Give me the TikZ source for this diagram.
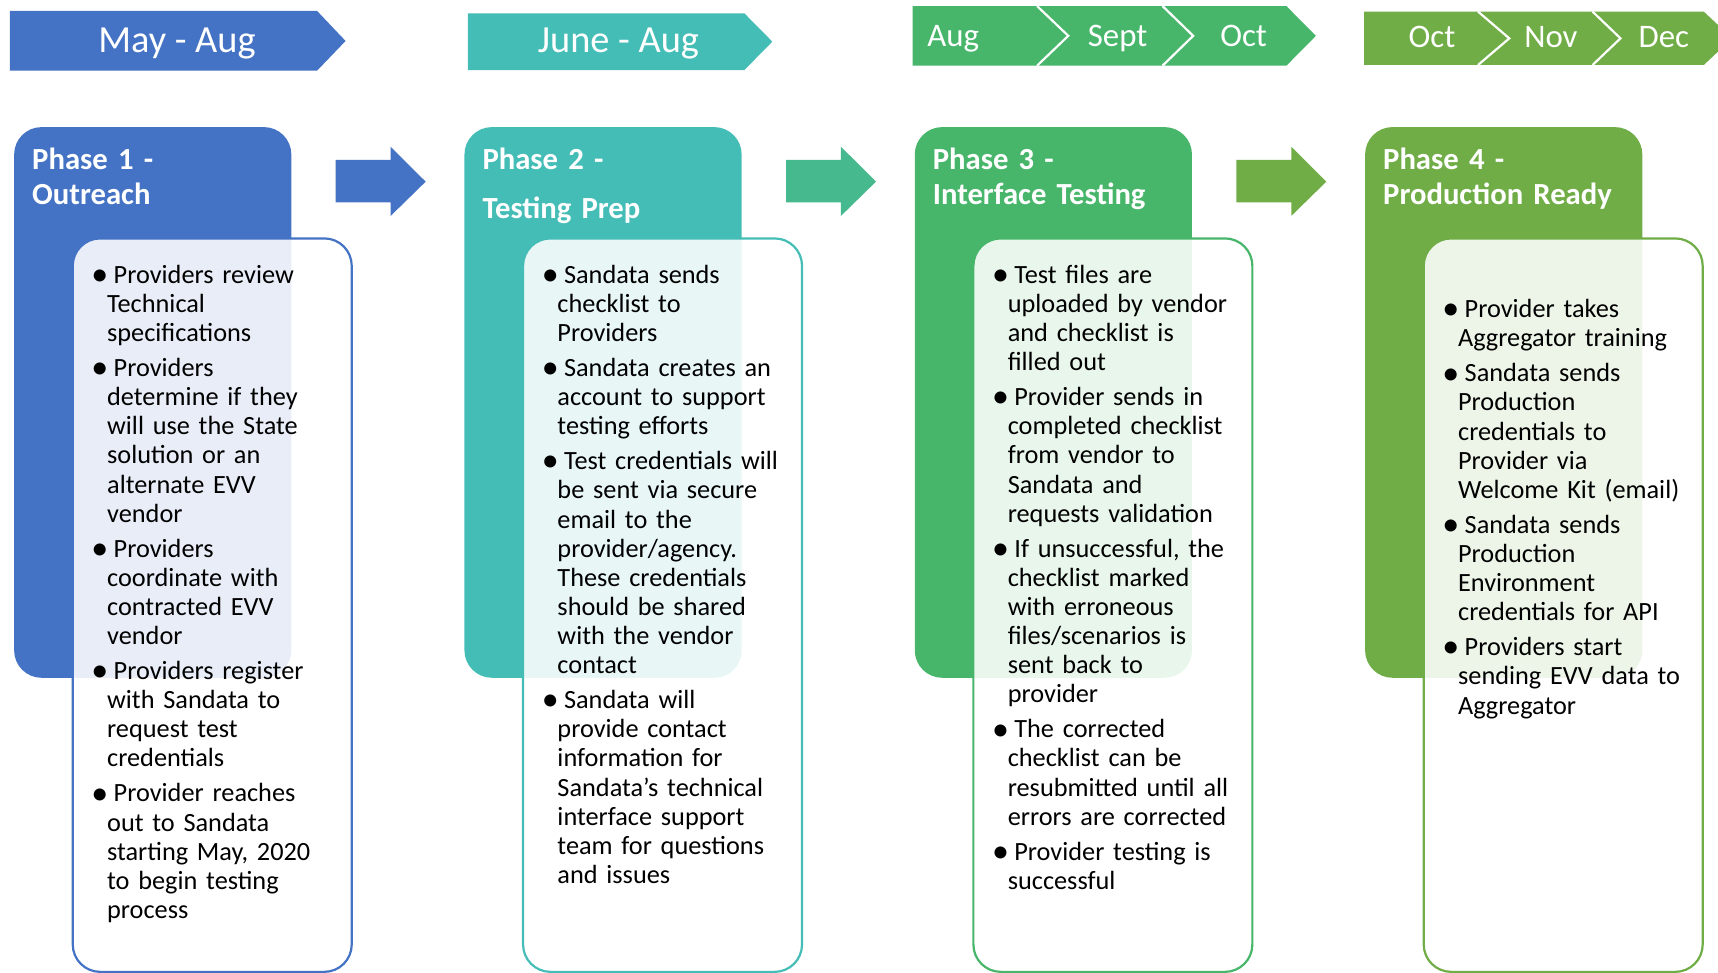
\documentclass[tikz,border=0pt]{standalone}
\usepackage{fontspec}
\setmainfont{Carlito}
\definecolor{pblue}{HTML}{4472C4}
\definecolor{pteal}{HTML}{45BDB7}
\definecolor{pmint}{HTML}{46B98F}
\definecolor{pgreen}{HTML}{47B66A}
\definecolor{polive}{HTML}{70AD47}
\newcommand\first{\noindent\rlap{\hspace{-3.3pt}\makebox[0pt]{\raisebox{-1pt}{\fontsize{15.5}{0}\selectfont\textbullet}}}\hspace{3pt}}
\newcommand\bul{\par\addvspace{2.65pt}\first}

\begin{document}
\begin{tikzpicture}[x=0.5pt,y=-0.5pt,
  phase/.style={fill=#1, rounded corners=12.5pt, anchor=north west, inner sep=0pt,
    minimum width=126.5pt, minimum height=251.3pt},
  card/.style={draw=#1, line width=1pt, fill=white, fill opacity=0.88, rounded corners=12.5pt,
    anchor=north west, inner sep=0pt, minimum width=127.3pt, minimum height=334.7pt},
  ttl/.style={anchor=base west, text width=120pt, align=left, inner sep=0pt, text=white,
    font=\bfseries\fontsize{14}{15.85}\selectfont},
  txt/.style={anchor=base west, text width=125pt, align=left, inner sep=0pt,
    font=\fontsize{12}{13.3}\selectfont},
  mon/.style={anchor=base, inner sep=0pt, text=white, font=\fontsize{17.5}{20}\selectfont},
  mon2/.style={anchor=base, inner sep=0pt, text=white, font=\fontsize{15}{18}\selectfont},
  cut/.style={draw=white, line width=1pt}]
\clip (0,0) rectangle (1568,888);

\fill[pblue] (9,10) -- (289.4,10) -- (315.4,37.4) -- (289.4,64.5) -- (9,64.5) -- cycle;
\node[mon] (m1) at (161.5,47.8) {May - Aug};
\fill[pteal] (427,12.2) -- (679.4,12.2) -- (704.9,38) -- (679.4,63.9) -- (427,63.9) -- cycle;
\node[mon] (m2) at (564.5,47.8) {June - Aug};

\fill[pgreen] (833,5.5) -- (1174,5.5) -- (1201,32.7) -- (1174,60) -- (833,60) -- cycle;
\draw[cut] (946.5,5.5) -- (975,32.7) -- (946.5,60);
\draw[cut] (1061,5.5) -- (1089,32.7) -- (1061,60);
\node[mon2, anchor=base west] (m3) at (846,42.6) {Aug};
\node[mon2] (m4) at (1020,42.6) {Sept};
\node[mon2] (m5) at (1135,42.6) {Oct};

\fill[polive] (1245,10.6) -- (1555,10.6) -- (1581,35) -- (1555,59.3) -- (1245,59.3) -- cycle;
\draw[cut] (1349,10.6) -- (1377.5,35) -- (1349,59.3);
\draw[cut] (1453.5,10.6) -- (1479,35) -- (1453.5,59.3);
\node[mon2] (m6) at (1307,43.5) {Oct};
\node[mon2] (m7) at (1415.5,43.5) {Nov};
\node[mon2] (m8) at (1518.5,43.5) {Dec};

\foreach \s/\c in {0/pblue,411/pmint,822/polive}
  \fill[\c, shift={(\s,0)}] (306.4,146) -- (356.5,146) -- (356.5,133.9) -- (388.5,165.8)
    -- (356.5,197.1) -- (356.5,184.7) -- (306.4,184.7) -- cycle;

\node[phase=pblue] (ph1) at (12.5,115.6) {};
\node[phase=pteal] (ph2) at (423.5,115.6) {};
\node[phase=pgreen] (ph3) at (834.5,115.6) {};
\node[phase=polive] (ph4) at (1245.5,115.6) {};
\node[card=pblue] (cb1) at (65.4,216.6) {};
\node[card=pteal] (cb2) at (476.4,216.6) {};
\node[card=pgreen] (cb3) at (887.4,216.6) {};
\node[card=polive] (cb4) at (1298.4,216.6) {};

\node[ttl] (t1) at (29,154.5) {Phase 1 -\\Outreach};
\node[ttl] (t2) at (440,154.5) {Phase 2 -\\[6.5pt]Testing Prep};
\node[ttl] (t3) at (851,154.5) {Phase 3 -\\Interface Testing};
\node[ttl] (t4) at (1262,154.5) {Phase 4 -\\Production Ready};

\node[txt] (b1) at (97.4,258.5) {
  \first Providers review\\Technical\\specifications
  \bul Providers\\determine if they\\will use the State\\solution or an\\alternate EVV\\vendor
  \bul Providers\\coordinate with\\contracted EVV\\vendor
  \bul Providers register\\with Sandata to\\request test\\credentials
  \bul Provider reaches\\out to Sandata\\starting May, 2020\\to begin testing\\process};
\node[txt] (b2) at (508.4,258.5) {
  \first Sandata sends\\checklist to\\Providers
  \bul Sandata creates an\\account to support\\testing efforts
  \bul Test credentials will\\be sent via secure\\email to the\\provider/agency.\\These credentials\\should be shared\\with the vendor\\contact
  \bul Sandata will\\provide contact\\information for\\Sandata’s technical\\interface support\\team for questions\\and issues};
\node[txt] (b3) at (919.4,258.5) {
  \first Test files are\\uploaded by vendor\\and checklist is\\filled out
  \bul Provider sends in\\completed checklist\\from vendor to\\Sandata and\\requests validation
  \bul If unsuccessful, the\\checklist marked\\with erroneous\\files/scenarios is\\sent back to\\provider
  \bul The corrected\\checklist can be\\resubmitted until all\\errors are corrected
  \bul Provider testing is\\successful};
\node[txt] (b4) at (1330.4,290) {
  \first Provider takes\\Aggregator training
  \bul Sandata sends\\Production\\credentials to\\Provider via\\Welcome Kit (email)
  \bul Sandata sends\\Production\\Environment\\credentials for API
  \bul Providers start\\sending EVV data to\\Aggregator};
\end{tikzpicture}
\end{document}
